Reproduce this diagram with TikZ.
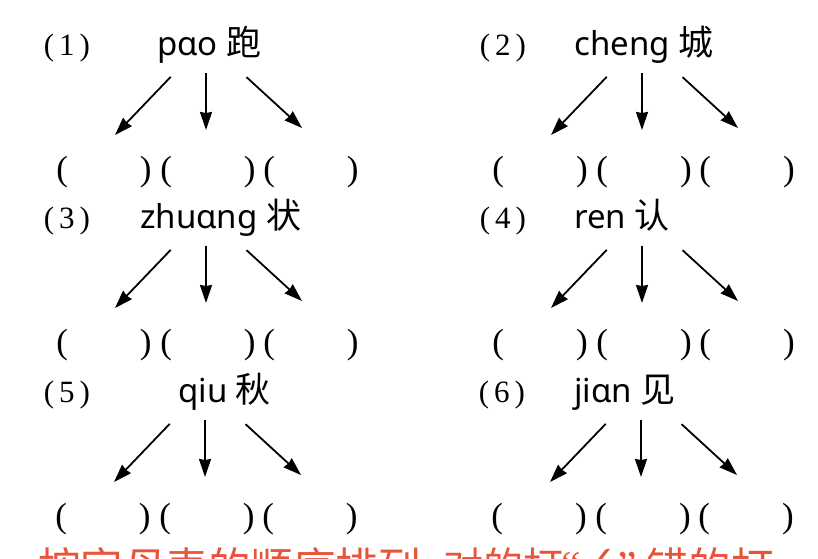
\documentclass[tikz,border=0pt]{standalone}
\usepackage{fontspec}
\setmainfont{Liberation Serif}
\newfontfamily\pinyinfont{Noto Sans}
\newfontfamily\hanfont{Noto Sans CJK SC}
\newfontfamily\markfont{DejaVu Sans}
\usetikzlibrary{arrows.meta}
\definecolor{pRed}{RGB}{232,84,58}
\newcommand{\pHan}[1]{{\hanfont\fontsize{35}{38}\selectfont #1}}
\newcommand{\pNumText}[1]{(\hspace{5pt}#1\hspace{5pt})}
\newcommand{\pSlotText}{(\hspace{72pt})}

\begin{document}
\begin{tikzpicture}[x=1pt,y=-1pt,
  pNum/.style={font=\fontsize{31}{34}\selectfont, inner sep=0pt, anchor=base},
  pWord/.style={font=\pinyinfont\fontsize{33}{38}\selectfont, inner sep=0pt, anchor=base west},
  pSlot/.style={font=\fontsize{35}{40}\selectfont, inner sep=0pt, anchor=base},
  pArrow/.style={-{Stealth[length=18pt,width=12pt,inset=1pt]}, line width=1.8pt},
  pNote/.style={font=\hanfont\fontsize{42.5}{46}\selectfont, text=pRed, inner sep=0pt, anchor=base west}]
\useasboundingbox (0,0) rectangle (818,558);
\clip (0,0) rectangle (818,558);
% (1) pao
\begin{scope}[shift={(206,45)}]
\node[pNum] (num1) at (-139,10) {\pNumText{1}};
\node[pWord] (word1) at (-49,10) {pɑo \pHan{跑}};
\node[pSlot] (slot1a) at (-102,135) {\pSlotText};
\node[pSlot] (slot1b) at (2,135) {\pSlotText};
\node[pSlot] (slot1c) at (105,135) {\pSlotText};
\coordinate (hub1) at (0,-5);
\coordinate (tip1a) at (-91,90);
\coordinate (tip1b) at (0,85);
\coordinate (tip1c) at (96,83);
\draw[pArrow, shorten <=51pt] (hub1) -- (tip1a);
\draw[pArrow, shorten <=33pt] (hub1) -- (tip1b);
\draw[pArrow, shorten <=55pt] (hub1) -- (tip1c);
\end{scope}
% (2) cheng
\begin{scope}[shift={(642,45)}]
\node[pNum] (num2) at (-139,10) {\pNumText{2}};
\node[pWord] (word2) at (-68,10) {cheng \pHan{城}};
\node[pSlot] (slot2a) at (-102,135) {\pSlotText};
\node[pSlot] (slot2b) at (2,135) {\pSlotText};
\node[pSlot] (slot2c) at (105,135) {\pSlotText};
\coordinate (hub2) at (0,-5);
\coordinate (tip2a) at (-91,90);
\coordinate (tip2b) at (0,85);
\coordinate (tip2c) at (96,83);
\draw[pArrow, shorten <=51pt] (hub2) -- (tip2a);
\draw[pArrow, shorten <=33pt] (hub2) -- (tip2b);
\draw[pArrow, shorten <=55pt] (hub2) -- (tip2c);
\end{scope}
% (3) zhuang
\begin{scope}[shift={(206,218)}]
\node[pNum] (num3) at (-139,10) {\pNumText{3}};
\node[pWord] (word3) at (-66,10) {zhuɑng \pHan{状}};
\node[pSlot] (slot3a) at (-102,135) {\pSlotText};
\node[pSlot] (slot3b) at (2,135) {\pSlotText};
\node[pSlot] (slot3c) at (105,135) {\pSlotText};
\coordinate (hub3) at (0,-5);
\coordinate (tip3a) at (-91,90);
\coordinate (tip3b) at (0,85);
\coordinate (tip3c) at (96,83);
\draw[pArrow, shorten <=51pt] (hub3) -- (tip3a);
\draw[pArrow, shorten <=33pt] (hub3) -- (tip3b);
\draw[pArrow, shorten <=55pt] (hub3) -- (tip3c);
\end{scope}
% (4) ren
\begin{scope}[shift={(642,218)}]
\node[pNum] (num4) at (-139,10) {\pNumText{4}};
\node[pWord] (word4) at (-68,10) {ren \pHan{认}};
\node[pSlot] (slot4a) at (-102,135) {\pSlotText};
\node[pSlot] (slot4b) at (2,135) {\pSlotText};
\node[pSlot] (slot4c) at (105,135) {\pSlotText};
\coordinate (hub4) at (0,-5);
\coordinate (tip4a) at (-91,90);
\coordinate (tip4b) at (0,85);
\coordinate (tip4c) at (96,83);
\draw[pArrow, shorten <=51pt] (hub4) -- (tip4a);
\draw[pArrow, shorten <=33pt] (hub4) -- (tip4b);
\draw[pArrow, shorten <=55pt] (hub4) -- (tip4c);
\end{scope}
% (5) qiu
\begin{scope}[shift={(205,392)}]
\node[pNum] (num5) at (-138,10) {\pNumText{5}};
\node[pWord] (word5) at (-27,10) {qiu \pHan{秋}};
\node[pSlot] (slot5a) at (-102,135) {\pSlotText};
\node[pSlot] (slot5b) at (2,135) {\pSlotText};
\node[pSlot] (slot5c) at (105,135) {\pSlotText};
\coordinate (hub5) at (0,-5);
\coordinate (tip5a) at (-91,90);
\coordinate (tip5b) at (0,85);
\coordinate (tip5c) at (96,83);
\draw[pArrow, shorten <=51pt] (hub5) -- (tip5a);
\draw[pArrow, shorten <=33pt] (hub5) -- (tip5b);
\draw[pArrow, shorten <=55pt] (hub5) -- (tip5c);
\end{scope}
% (6) jian
\begin{scope}[shift={(641,392)}]
\node[pNum] (num6) at (-139,10) {\pNumText{6}};
\node[pWord] (word6) at (-67,10) {jiɑn \pHan{见}};
\node[pSlot] (slot6a) at (-102,135) {\pSlotText};
\node[pSlot] (slot6b) at (2,135) {\pSlotText};
\node[pSlot] (slot6c) at (105,135) {\pSlotText};
\coordinate (hub6) at (0,-5);
\coordinate (tip6a) at (-91,90);
\coordinate (tip6b) at (0,85);
\coordinate (tip6c) at (96,83);
\draw[pArrow, shorten <=51pt] (hub6) -- (tip6a);
\draw[pArrow, shorten <=33pt] (hub6) -- (tip6b);
\draw[pArrow, shorten <=55pt] (hub6) -- (tip6c);
\end{scope}
% next exercise, cut off at the bottom edge
\node[pNote] (note1) at (38,583) {\llap{4.\hspace{22pt}}按字母表的顺序排列};
\node[pNote, font=\hanfont\fontsize{40}{44}\selectfont] (note2) at (443,581) {对的打};
\node[pNote, font=\fontsize{44}{48}\selectfont] (note3) at (561,581) {“};
\node[pNote, font=\markfont\fontsize{40}{44}\selectfont] (note4) at (583,574) {✓};
\node[pNote, font=\fontsize{44}{48}\selectfont] (note5) at (617,581) {”};
\node[pNote] (note6) at (646,583) {错的打};
\end{tikzpicture}
\end{document}
